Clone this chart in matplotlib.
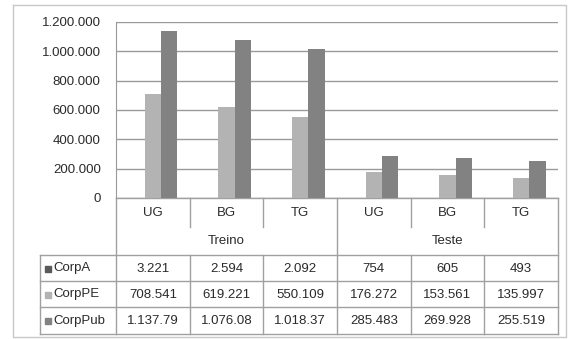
import matplotlib.pyplot as plt
import numpy as np

plt.rcParams['font.family'] = ['Liberation Sans', 'DejaVu Sans']

# data
ngrams = ['UG', 'BG', 'TG', 'UG', 'BG', 'TG']
groups = ['Treino', 'Teste']
series = ['CorpA', 'CorpPE', 'CorpPub']
corp_a = [3221, 2594, 2092, 754, 605, 493]
corp_pe = [708541, 619221, 550109, 176272, 153561, 135997]
corp_pub = [1137790, 1076080, 1018370, 285483, 269928, 255519]
colors = ['#5a5a5a', '#b3b3b3', '#828282']

W, H = 568, 339
fig = plt.figure(figsize=(W / 100, H / 100), dpi=100)

# pixel-space overlay for the frame and the data table
ov = fig.add_axes([0, 0, 1, 1])
ov.set_xlim(0, W)
ov.set_ylim(H, 0)
ov.axis('off')

x0, x1 = 116, 558          # plot/table column span
y_top, y_base = 22, 198    # plot area
col_w = (x1 - x0) / len(ngrams)

ax = fig.add_axes([x0 / W, 1 - y_base / H, (x1 - x0) / W, (y_base - y_top) / H])
values = [corp_a, corp_pe, corp_pub]
x = np.arange(len(ngrams))
bw = 0.222
for i, (vals, c) in enumerate(zip(values, colors)):
    ax.bar(x + (i - 1) * bw, vals, bw, color=c, zorder=3)

ax.set_xlim(-0.5, len(ngrams) - 0.5)
ax.set_ylim(0, 1200000)
ticks = np.arange(0, 1200001, 200000)
ax.set_yticks(ticks)
ax.set_yticklabels(['{:,}'.format(t).replace(',', '.') for t in ticks], fontsize=9.5, color='#2a2a2a')
ax.set_xticks([])
ax.tick_params(axis='y', length=0, pad=11)
ax.grid(axis='y', color='#9a9a9a', linewidth=1, zorder=0)
for s in ['top', 'right', 'bottom']:
    ax.spines[s].set_visible(False)
ax.spines['left'].set_color('#9a9a9a')
ax.patch.set_alpha(0)

# outer frame
lc = '#a0a0a0'
ov.plot([13, 566, 566, 13, 13], [5, 5, 337, 337, 5], color='#c8c8c8', lw=1)

# table grid
rows_y = [y_base, 227, 255, 281, 307, 334]
ov.plot([x0, x1], [y_base, y_base], color=lc, lw=1)
for yy in rows_y[2:]:
    ov.plot([40, x1], [yy, yy], color=lc, lw=1)
for k in range(len(ngrams) + 1):
    xx = x0 + k * col_w
    if k in (0, 3, 6):
        ov.plot([xx, xx], [y_base, rows_y[-1]], color=lc, lw=1)
    else:
        ov.plot([xx, xx], [y_base, rows_y[1]], color=lc, lw=1)
        ov.plot([xx, xx], [rows_y[2], rows_y[-1]], color=lc, lw=1)
ov.plot([40, 40], [rows_y[2], rows_y[-1]], color=lc, lw=1)

fs = 9.5
tc = '#2a2a2a'
for k, lab in enumerate(ngrams):
    ov.text(x0 + (k + 0.5) * col_w, 213, lab, ha='center', va='center', fontsize=fs, color=tc)
for g, lab in enumerate(groups):
    ov.text(x0 + (g * 3 + 1.5) * col_w, 241, lab, ha='center', va='center', fontsize=fs, color=tc)


def fmt(v):
    # thousands with dots, cut to the cell width
    return '{:,}'.format(v).replace(',', '.')[:8]


for r, (name, vals, c) in enumerate(zip(series, values, colors)):
    yc = (rows_y[2 + r] + rows_y[3 + r]) / 2 + 0.5
    ov.add_patch(plt.Rectangle((45, yc - 3), 6, 6, color=c))
    ov.text(53, yc, name, ha='left', va='center', fontsize=fs, color=tc)
    for k, v in enumerate(vals):
        ov.text(x0 + (k + 0.5) * col_w, yc, fmt(v), ha='center', va='center',
                fontsize=fs, color=tc)

fig.savefig('out.png', dpi=100)
